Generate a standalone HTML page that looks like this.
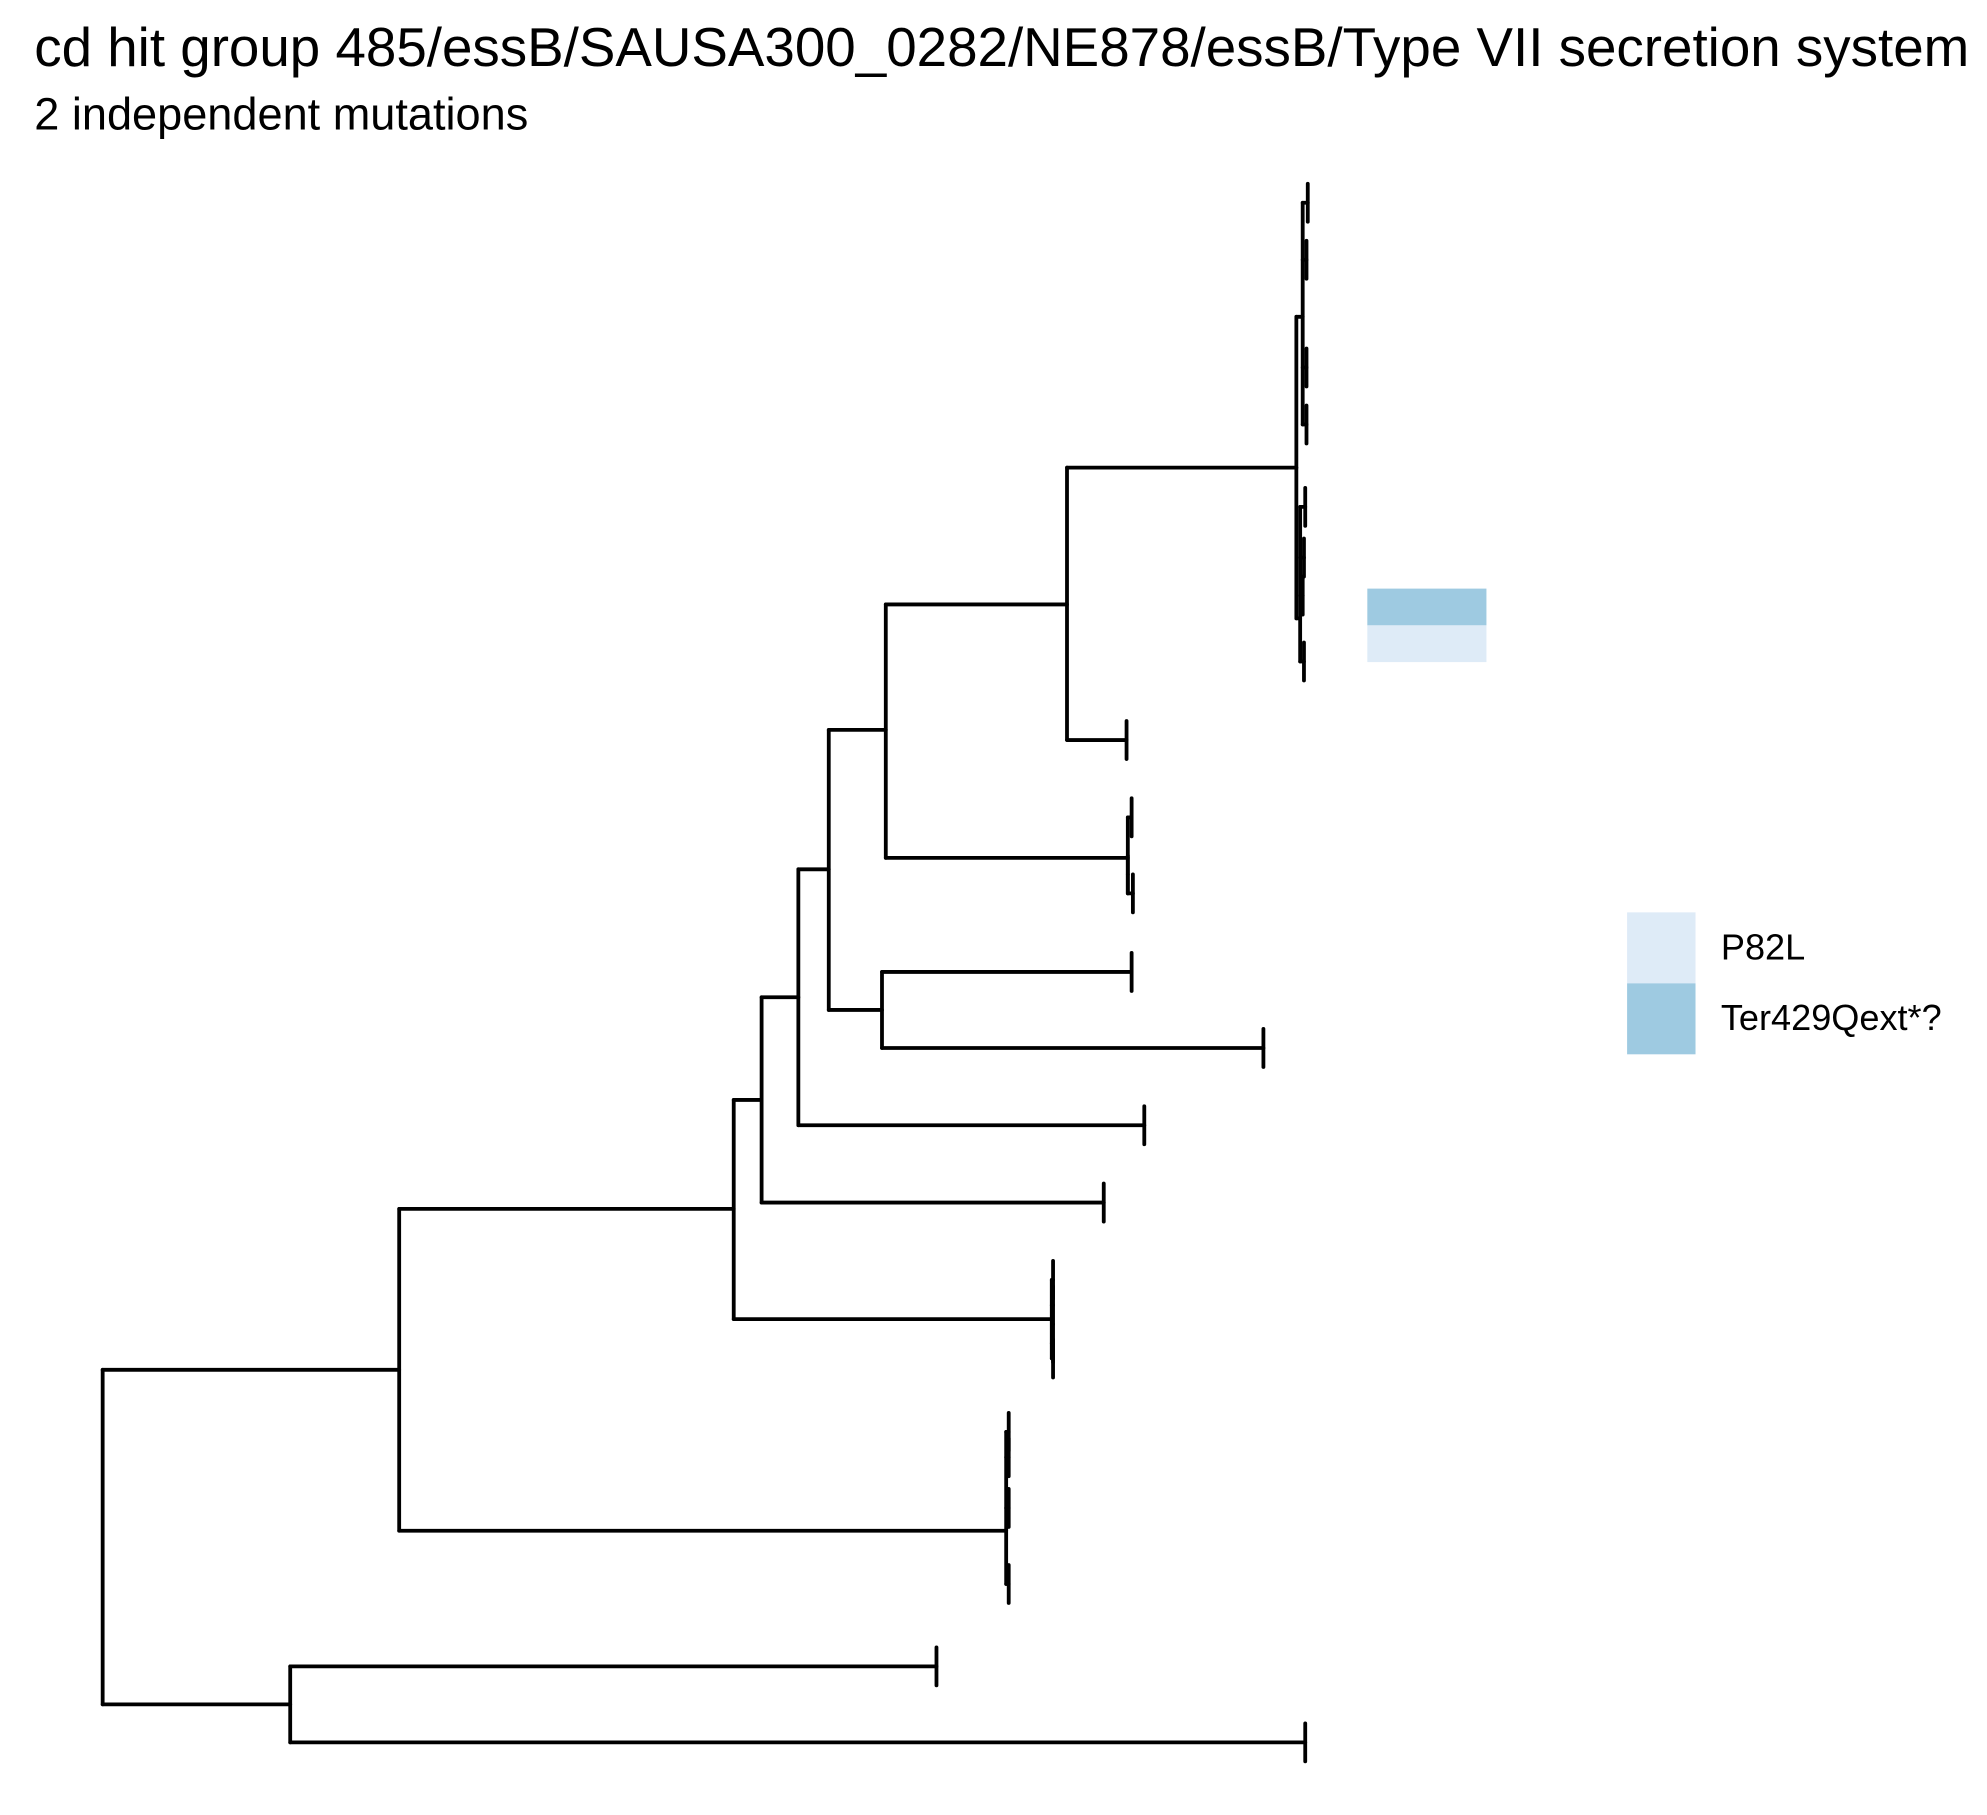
<!DOCTYPE html>
<html><head><meta charset="utf-8"><style>
html,body{margin:0;padding:0;background:#fff}
svg{display:block}
text{font-family:"Liberation Sans",sans-serif;fill:#000}
</style></head><body>
<svg id="chart" width="1987" height="1815" viewBox="0 0 1568 1432.3" xmlns="http://www.w3.org/2000/svg">
<text x="27" y="52" font-size="43.2">cd hit group 485/essB/SAUSA300_0282/NE878/essB/Type VII secretion system</text>
<text x="27" y="102" font-size="35.6">2 independent mutations</text>
<g id="tree"></g>
<g id="heat"></g>
<g id="legend"></g>
</svg>
<script>
// tree nodes: parent index, x (branch depth), y (row position)
const nodeParent = [-1,0,1,2,3,4,5,6,7,7,6,5,11,11,4,3,2,1,0,18,18, 8,8, 21,21,21,21, 22,22,22,22, 10,10,10, 16,16,16,16, 17,17,17,17];
const nodeX = [81,315,579,601,630,654,699,842,1023,889,890,696,893,997,903,871,830,794,229,739,1030, 1028,1026, 1032,1031,1031,1031, 1030,1029,1028,1029, 893,890,894, 831,831,831,831, 796,796,796,796];
const nodeY = [1213,1081,954,868,787,686,576,477,369,584,677,797,767,827,888,949,1041,1208,1345,1315,1375, 250,488, 160,205,290,335, 400,440,470,522, 645,690,705, 1010,1030,1060,1072, 1130,1150,1190,1250];
// mutation tiles
const mutations = ["Ter429Qext*?","P82L"];
const mutationRowY = [479,508];
const legendLabels = ["P82L","Ter429Qext*?"];
const legendColors = ["#deebf7","#9ecae1"];
const mutationColors = ["#9ecae1","#deebf7"];

const NS="http://www.w3.org/2000/svg";
const tree=document.getElementById('tree');
function line(x1,y1,x2,y2,name){
  const l=document.createElementNS(NS,'line');
  l.setAttribute('x1',x1);l.setAttribute('y1',y1);l.setAttribute('x2',x2);l.setAttribute('y2',y2);
  l.setAttribute('stroke','#000');l.setAttribute('stroke-width','3');l.setAttribute('stroke-linecap','round');
  
  
  tree.appendChild(l);
}
const n=nodeParent.length;
const children=[];for(let i=0;i<n;i++)children.push([]);
for(let i=1;i<n;i++)children[nodeParent[i]].push(i);
for(let i=0;i<n;i++){
  if(children[i].length){
    const ys=children[i].map(c=>nodeY[c]);
    line(nodeX[i],Math.min(...ys),nodeX[i],Math.max(...ys),'internal-node-'+i);
  }else{
    line(nodeX[i],nodeY[i]-15,nodeX[i],nodeY[i]+15,'tip-'+i);
  }
  if(nodeParent[i]>=0){
    line(nodeX[nodeParent[i]],nodeY[i],nodeX[i],nodeY[i],'branch-'+i);
  }
}
const heat=document.getElementById('heat');
for(let i=0;i<mutations.length;i++){
  const r=document.createElementNS(NS,'rect');
  r.setAttribute('x',1079);r.setAttribute('y',mutationRowY[i]-14.5);r.setAttribute('width',94);r.setAttribute('height',29);
  r.setAttribute('fill',mutationColors[i]);
  
  
  heat.appendChild(r);
}
const leg=document.getElementById('legend');
for(let i=0;i<legendLabels.length;i++){
  const r=document.createElementNS(NS,'rect');
  r.setAttribute('x',1284);r.setAttribute('y',720+i*56);r.setAttribute('width',54);r.setAttribute('height',56);
  r.setAttribute('fill',legendColors[i]);
  
  
  leg.appendChild(r);
  const t=document.createElementNS(NS,'text');
  t.setAttribute('x',1358);t.setAttribute('y',757+i*56);t.setAttribute('font-size','28.5');
  t.textContent=legendLabels[i];
  
  
  leg.appendChild(t);
}
</script>
</body></html>
